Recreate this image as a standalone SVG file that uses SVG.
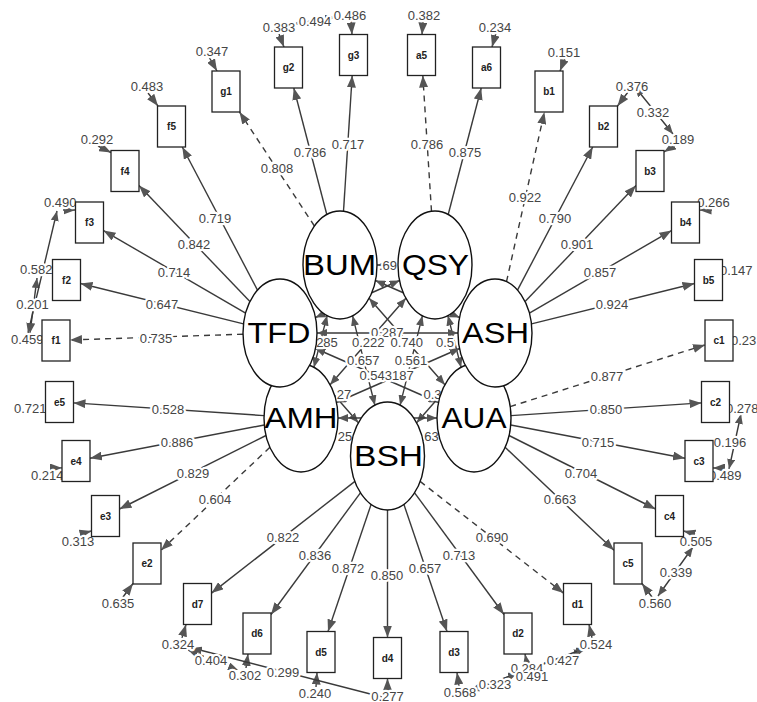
<svg xmlns="http://www.w3.org/2000/svg" width="757" height="702" viewBox="0 0 757 702">
<style>
.ln{stroke:#3a3a3a;stroke-width:1.4;fill:none}
.dsh{stroke-dasharray:6,5}
.ar{marker-end:url(#a)}
.ar2{marker-start:url(#s);marker-end:url(#s)}
.lb{font-family:"Liberation Sans",Arial,sans-serif;font-size:13px;fill:#454545;text-anchor:middle;stroke:#fff;stroke-width:4.5px;stroke-linejoin:round;paint-order:stroke}
.st{text-anchor:start}
.bx{fill:#fff;stroke:#222;stroke-width:1.3}
.bt{font-family:"Liberation Sans",Arial,sans-serif;font-size:10px;font-weight:bold;fill:#222;text-anchor:middle}
.el{fill:#fff;stroke:#111;stroke-width:1.4}
.et{font-family:"Liberation Sans",Arial,sans-serif;font-size:29.5px;fill:#000;text-anchor:middle}
</style>
<defs>
<marker id="a" viewBox="0 0 12 9" refX="12" refY="4.5" markerWidth="12" markerHeight="9" markerUnits="userSpaceOnUse" orient="auto-start-reverse"><path d="M0,0L12,4.5L0,9z" fill="#555"/></marker>
<marker id="s" viewBox="0 0 10 8" refX="10" refY="4" markerWidth="10" markerHeight="8" markerUnits="userSpaceOnUse" orient="auto-start-reverse"><path d="M0,0L10,4L0,8z" fill="#555"/></marker>
</defs>
<rect width="757" height="702" fill="#fff"/>
<g id="connectors">
<g class="ln ar2">
<path d="M377,265L398,265"/>
<path d="M375.4,280.5L459.6,317.5"/>
<path d="M327.1,315.6L313.9,367.4"/>
<path d="M369.1,298.3L444.9,384.7"/>
<path d="M352.6,315.8L374.9,405.2"/>
<path d="M399.6,280.5L315.4,317.5"/>
<path d="M405.9,298.3L330.1,384.7"/>
<path d="M447.9,315.6L461.1,367.4"/>
<path d="M422.4,315.8L400.1,405.2"/>
<path d="M317,333L458,333"/>
<path d="M315.4,348.5L438.6,402.5"/>
<path d="M309.1,366.3L358.4,422.7"/>
<path d="M459.6,348.5L336.4,402.5"/>
<path d="M465.9,366.3L416.6,422.7"/>
<path d="M338,418L437,418"/>
<path d="M336.4,433.6L352.1,440.4"/>
<path d="M438.6,433.6L422.9,440.4"/>
</g>
<g class="ln ar">
<path class="dsh" d="M314.4,226L239.5,112"/>
<path d="M326.8,214.5L293.8,88"/>
<path d="M343.5,211.2L352.2,75.5"/>
<path class="dsh" d="M431.5,211.2L422.8,75.5"/>
<path d="M448.2,214.5L481.2,88"/>
<path d="M257.5,290.1L182.3,147"/>
<path d="M249.9,301.6L139,185.6"/>
<path d="M245.6,313.1L103.5,230.6"/>
<path d="M243.5,323.9L80.5,283.5"/>
<path class="dsh" d="M243,334.2L70,340"/>
<path class="dsh" d="M506.5,281.7L544.4,112"/>
<path d="M517.5,290.1L592.7,147"/>
<path d="M525.1,301.6L636,185.6"/>
<path d="M529.4,313.1L671.5,230.6"/>
<path d="M531.5,323.9L694.5,283.5"/>
<path class="dsh" d="M510.2,406.6L705,344.9"/>
<path d="M511,415.6L701.5,402.9"/>
<path d="M510.7,425L685,458.3"/>
<path d="M509,435.5L655.5,509"/>
<path d="M505.1,447.3L614,550.3"/>
<path d="M264,415.6L73.5,402.9"/>
<path d="M264.3,425L90,458.3"/>
<path d="M266,435.5L119.5,509"/>
<path class="dsh" d="M269.9,447.3L161,550.3"/>
<path class="dsh" d="M420.1,481.4L563.5,593.1"/>
<path d="M414.6,492.8L504,614.5"/>
<path d="M403.9,504.4L447,631.5"/>
<path d="M387.5,510L387.5,637.5"/>
<path d="M371.1,504.4L328,631.5"/>
<path d="M360.4,492.8L271,614.5"/>
<path d="M354.9,481.4L211.5,593.1"/>
</g>
<g class="ln ar">
<path d="M209,57L217,71"/>
<path d="M279,34L284,47"/>
<path d="M351,21L352,34.5"/>
<path d="M423,21L422,34.5"/>
<path d="M496,33L492,47"/>
<path d="M565,58L560,71"/>
<path d="M628,92L617.5,106"/>
<path d="M675,145L664,152"/>
<path d="M712,210L699.5,210"/>
<path d="M724,468L713,468"/>
<path d="M695,534L683.5,531"/>
<path d="M652,597L642,583.5"/>
<path d="M592,638L589,624.5"/>
<path d="M527,664L525,654"/>
<path d="M459,686L457,672.5"/>
<path d="M387.5,692L387.5,678.5"/>
<path d="M316,687L317,672.5"/>
<path d="M246,668L248,654"/>
<path d="M182,638L186,624.5"/>
<path d="M123,597L133,583.5"/>
<path d="M80,534L91.5,531"/>
<path d="M51,468L62,468"/>
<path d="M63,210L75.5,210"/>
<path d="M98,146L111,152.5"/>
<path d="M148,93L158,106"/>
</g>
<g class="ln ar2">
<path d="M294,24L335,17"/>
<path d="M635,87L673,134"/>
<path d="M741,414L729,469"/>
<path d="M693,547L658,596"/>
<path class="dsh" d="M188,650L238,670"/>
<path d="M192,648L382,697"/>
<path d="M543,664L584,650"/>
<path d="M470,691L586,648"/>
<path d="M472,690L518,673"/>
<path d="M37,278L30,333"/>
<path d="M57,211L28,333"/>
</g>
</g>
<g id="labels">
<text class="lb" x="277" y="172.5">0.808</text>
<text class="lb" x="310" y="156.5">0.786</text>
<text class="lb" x="348" y="148.5">0.717</text>
<text class="lb" x="427" y="148.5">0.786</text>
<text class="lb" x="465" y="156.5">0.875</text>
<text class="lb" x="525" y="201.5">0.922</text>
<text class="lb" x="555" y="222.5">0.790</text>
<text class="lb" x="577" y="248.5">0.901</text>
<text class="lb" x="600" y="276.5">0.857</text>
<text class="lb" x="612" y="308.5">0.924</text>
<text class="lb" x="607" y="380.5">0.877</text>
<text class="lb" x="606" y="413.5">0.850</text>
<text class="lb" x="598" y="446.5">0.715</text>
<text class="lb" x="581" y="477.5">0.704</text>
<text class="lb" x="560" y="503.5">0.663</text>
<text class="lb" x="492" y="541.5">0.690</text>
<text class="lb" x="459" y="559.5">0.713</text>
<text class="lb" x="425" y="572.5">0.657</text>
<text class="lb" x="387" y="579.5">0.850</text>
<text class="lb" x="348" y="572.5">0.872</text>
<text class="lb" x="315" y="559.5">0.836</text>
<text class="lb" x="283" y="541.5">0.822</text>
<text class="lb" x="215" y="503.5">0.604</text>
<text class="lb" x="193" y="477.5">0.829</text>
<text class="lb" x="177" y="446.5">0.886</text>
<text class="lb" x="168" y="413.5">0.528</text>
<text class="lb" x="156" y="342.5">0.735</text>
<text class="lb" x="162" y="308.5">0.647</text>
<text class="lb" x="174" y="276.5">0.714</text>
<text class="lb" x="194" y="248.5">0.842</text>
<text class="lb" x="215" y="222.5">0.719</text>
<text class="lb" x="388" y="269.5">.69</text>
<text class="lb" x="387.3" y="336.5">0.287</text>
<text class="lb" x="327" y="347">285</text>
<text class="lb" x="368.3" y="347">0.222</text>
<text class="lb" x="406.7" y="347">0.740</text>
<text class="lb" x="445" y="347">0.5</text>
<text class="lb" x="363.3" y="365">0.657</text>
<text class="lb" x="411" y="365">0.561</text>
<text class="lb st" x="359.5" y="379.5">0.543187</text>
<text class="lb" x="344" y="399">27</text>
<text class="lb" x="432.5" y="399">0.3</text>
<text class="lb" x="345" y="441">25</text>
<text class="lb" x="431.5" y="441">63</text>
<text class="lb" x="212" y="55.5">0.347</text>
<text class="lb" x="279" y="31.5">0.383</text>
<text class="lb" x="315" y="26">0.494</text>
<text class="lb" x="350" y="19.5">0.486</text>
<text class="lb" x="424" y="19.5">0.382</text>
<text class="lb" x="495" y="31.5">0.234</text>
<text class="lb" x="564" y="56.5">0.151</text>
<text class="lb" x="632" y="90.5">0.376</text>
<text class="lb" x="653" y="116.5">0.332</text>
<text class="lb" x="678" y="143.5">0.189</text>
<text class="lb" x="713.5" y="206.5">0.266</text>
<text class="lb st" x="720" y="274.5">0.147</text>
<text class="lb st" x="731" y="344.5">0.23</text>
<text class="lb st" x="726" y="412.5">0.278</text>
<text class="lb" x="730" y="446.5">0.196</text>
<text class="lb st" x="709" y="480">0.489</text>
<text class="lb" x="696" y="545.5">0.505</text>
<text class="lb" x="676" y="576.5">0.339</text>
<text class="lb" x="655" y="607.5">0.560</text>
<text class="lb" x="596" y="648.5">0.524</text>
<text class="lb" x="563" y="664.5">0.427</text>
<text class="lb" x="527" y="672.5">0.284</text>
<text class="lb" x="532" y="680.5">0.491</text>
<text class="lb" x="495" y="688.5">0.323</text>
<text class="lb" x="460" y="696.5">0.568</text>
<text class="lb" x="387.5" y="701">0.277</text>
<text class="lb" x="315" y="697.5">0.240</text>
<text class="lb" x="283" y="676.5">0.299</text>
<text class="lb" x="245" y="679.5">0.302</text>
<text class="lb" x="211" y="664.5">0.404</text>
<text class="lb" x="178" y="648.5">0.324</text>
<text class="lb" x="118" y="607.5">0.635</text>
<text class="lb" x="78" y="545.5">0.313</text>
<text class="lb st" x="31" y="480">0.214</text>
<text class="lb st" x="14" y="412.5">0.721</text>
<text class="lb st" x="11" y="344">0.459</text>
<text class="lb" x="32.5" y="308.5">0.201</text>
<text class="lb st" x="20" y="274">0.582</text>
<text class="lb st" x="44" y="207">0.490</text>
<text class="lb" x="97" y="143.5">0.292</text>
<text class="lb" x="147" y="90.5">0.483</text>
</g>
<g id="AMH"><ellipse class="el" cx="301" cy="418" rx="37" ry="54"/><text class="et" x="301" y="428" textLength="73" lengthAdjust="spacingAndGlyphs">AMH</text></g>
<g id="AUA"><ellipse class="el" cx="474" cy="418" rx="37" ry="54"/><text class="et" x="474" y="428" textLength="65" lengthAdjust="spacingAndGlyphs">AUA</text></g>
<g id="BSH"><ellipse class="el" cx="387.5" cy="456" rx="37" ry="54"/><text class="et" x="388.5" y="466" textLength="69" lengthAdjust="spacingAndGlyphs">BSH</text></g>
<g id="TFD"><ellipse class="el" cx="280" cy="333" rx="37" ry="54"/><text class="et" x="279" y="343" textLength="63" lengthAdjust="spacingAndGlyphs">TFD</text></g>
<g id="ASH"><ellipse class="el" cx="495" cy="333" rx="37" ry="54"/><text class="et" x="495.5" y="343" textLength="67" lengthAdjust="spacingAndGlyphs">ASH</text></g>
<g id="BUM"><ellipse class="el" cx="340" cy="265" rx="37" ry="54"/><text class="et" x="339.5" y="275" textLength="73" lengthAdjust="spacingAndGlyphs">BUM</text></g>
<g id="QSY"><ellipse class="el" cx="435" cy="265" rx="37" ry="54"/><text class="et" x="435.5" y="275" textLength="67" lengthAdjust="spacingAndGlyphs">QSY</text></g>
<g id="g3"><rect class="bx" x="339.5" y="34.5" width="28" height="41"/><text class="bt" x="353.5" y="58.5">g3</text></g>
<g id="g2"><rect class="bx" x="274.5" y="47" width="28" height="41"/><text class="bt" x="288.5" y="71">g2</text></g>
<g id="g1"><rect class="bx" x="212" y="71" width="28" height="41"/><text class="bt" x="226" y="95">g1</text></g>
<g id="f5"><rect class="bx" x="157.5" y="106" width="28" height="41"/><text class="bt" x="171.5" y="130">f5</text></g>
<g id="f4"><rect class="bx" x="111" y="150.5" width="28" height="41"/><text class="bt" x="125" y="174.5">f4</text></g>
<g id="f3"><rect class="bx" x="75.5" y="202" width="28" height="41"/><text class="bt" x="89.5" y="226">f3</text></g>
<g id="f2"><rect class="bx" x="52.5" y="259.5" width="28" height="41"/><text class="bt" x="66.5" y="283.5">f2</text></g>
<g id="f1"><rect class="bx" x="42" y="320" width="28" height="41"/><text class="bt" x="56" y="344">f1</text></g>
<g id="e5"><rect class="bx" x="45.5" y="381.5" width="28" height="41"/><text class="bt" x="59.5" y="405.5">e5</text></g>
<g id="e4"><rect class="bx" x="62" y="440.5" width="28" height="41"/><text class="bt" x="76" y="464.5">e4</text></g>
<g id="e3"><rect class="bx" x="91.5" y="495.5" width="28" height="41"/><text class="bt" x="105.5" y="519.5">e3</text></g>
<g id="e2"><rect class="bx" x="133" y="543" width="28" height="41"/><text class="bt" x="147" y="567">e2</text></g>
<g id="d7"><rect class="bx" x="183.5" y="583.5" width="28" height="41"/><text class="bt" x="197.5" y="607.5">d7</text></g>
<g id="d6"><rect class="bx" x="243" y="613" width="28" height="41"/><text class="bt" x="257" y="637">d6</text></g>
<g id="d5"><rect class="bx" x="307" y="631.5" width="28" height="41"/><text class="bt" x="321" y="655.5">d5</text></g>
<g id="d4"><rect class="bx" x="373.5" y="637.5" width="28" height="41"/><text class="bt" x="387.5" y="661.5">d4</text></g>
<g id="d3"><rect class="bx" x="440" y="631.5" width="28" height="41"/><text class="bt" x="454" y="655.5">d3</text></g>
<g id="d2"><rect class="bx" x="504" y="613" width="28" height="41"/><text class="bt" x="518" y="637">d2</text></g>
<g id="d1"><rect class="bx" x="563.5" y="583.5" width="28" height="41"/><text class="bt" x="577.5" y="607.5">d1</text></g>
<g id="c5"><rect class="bx" x="614" y="543" width="28" height="41"/><text class="bt" x="628" y="567">c5</text></g>
<g id="c4"><rect class="bx" x="655.5" y="495.5" width="28" height="41"/><text class="bt" x="669.5" y="519.5">c4</text></g>
<g id="c3"><rect class="bx" x="685" y="440.5" width="28" height="41"/><text class="bt" x="699" y="464.5">c3</text></g>
<g id="c2"><rect class="bx" x="701.5" y="381.5" width="28" height="41"/><text class="bt" x="715.5" y="405.5">c2</text></g>
<g id="c1"><rect class="bx" x="705" y="320" width="28" height="41"/><text class="bt" x="719" y="344">c1</text></g>
<g id="b5"><rect class="bx" x="694.5" y="259.5" width="28" height="41"/><text class="bt" x="708.5" y="283.5">b5</text></g>
<g id="b4"><rect class="bx" x="671.5" y="202" width="28" height="41"/><text class="bt" x="685.5" y="226">b4</text></g>
<g id="b3"><rect class="bx" x="636" y="150.5" width="28" height="41"/><text class="bt" x="650" y="174.5">b3</text></g>
<g id="b2"><rect class="bx" x="589.5" y="106" width="28" height="41"/><text class="bt" x="603.5" y="130">b2</text></g>
<g id="b1"><rect class="bx" x="535" y="71" width="28" height="41"/><text class="bt" x="549" y="95">b1</text></g>
<g id="a6"><rect class="bx" x="472.5" y="47" width="28" height="41"/><text class="bt" x="486.5" y="71">a6</text></g>
<g id="a5"><rect class="bx" x="407.5" y="34.5" width="28" height="41"/><text class="bt" x="421.5" y="58.5">a5</text></g>
</svg>
